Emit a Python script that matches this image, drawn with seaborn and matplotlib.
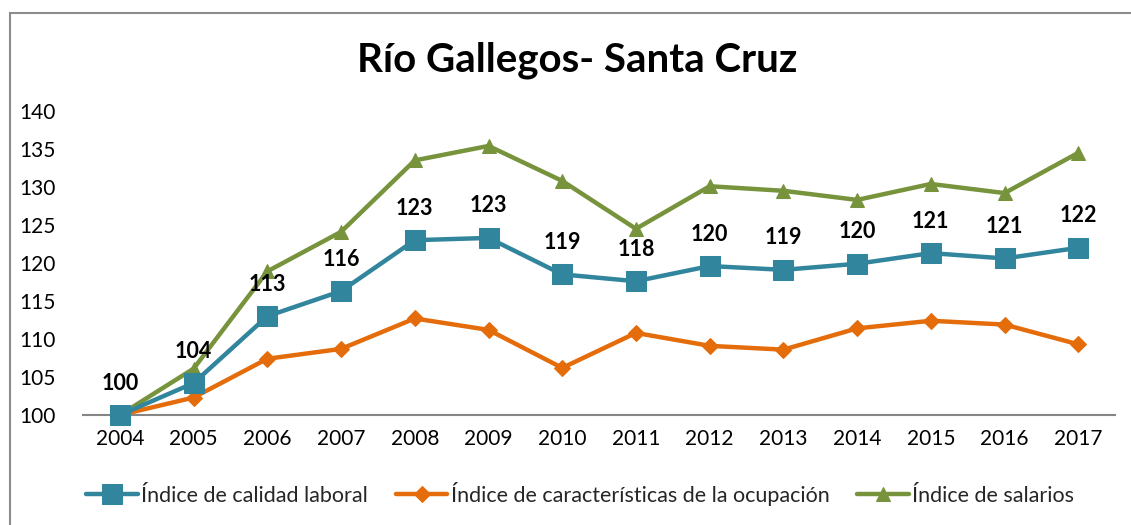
import matplotlib
matplotlib.use("Agg")
import matplotlib.pyplot as plt
import seaborn as sns
import pandas as pd
from matplotlib.patches import Rectangle

years = [2004, 2005, 2006, 2007, 2008, 2009, 2010, 2011, 2012, 2013, 2014, 2015, 2016, 2017]
calidad = [100, 104.2, 113.0, 116.3, 123.0, 123.3, 118.5, 117.6, 119.6, 119.1, 119.9, 121.3, 120.6, 122.0]
ocupacion = [100, 102.3, 107.4, 108.7, 112.7, 111.2, 106.2, 110.8, 109.1, 108.6, 111.4, 112.4, 111.9, 109.3]
salarios = [100, 106.1, 118.9, 124.1, 133.5, 135.4, 130.8, 124.5, 130.1, 129.5, 128.3, 130.4, 129.2, 134.5]
value_labels = ["100", "104", "113", "116", "123", "123", "119", "118", "120", "119", "120", "121", "121", "122"]

names = ["Índice de calidad laboral",
         "Índice de características de la ocupación",
         "Índice de salarios"]
title = "Río Gallegos- Santa Cruz"
yticks = [100, 105, 110, 115, 120, 125, 130, 135, 140]

df = pd.DataFrame({
    "year": years * 3,
    "value": calidad + ocupacion + salarios,
    "serie": [names[0]] * len(years) + [names[1]] * len(years) + [names[2]] * len(years),
})

sns.set_theme(style="white")
plt.rcParams["font.family"] = ["Lato", "DejaVu Sans"]

colors = ["#31859C", "#E46C0A", "#77933C"]
markers = ["s", "D", "^"]
msizes = [15, 8, 10]

fig = plt.figure(figsize=(11.31, 5.25), dpi=100)
ax = fig.add_axes([0.0734, 0.2095, 0.9126, 0.5791])

# draw order: salarios below, then ocupación, calidad on top
for i in [2, 1, 0]:
    sub = df[df["serie"] == names[i]]
    sns.lineplot(data=sub, x="year", y="value", ax=ax, color=colors[i],
                 linewidth=3.2, marker=markers[i], markersize=msizes[i],
                 markeredgecolor=colors[i], label=names[i], zorder=3 + (2 - i),
                 clip_on=False)

for x, y, t in zip(years, calidad, value_labels):
    ax.annotate(t, (x, y), xytext=(0, 23), textcoords="offset points",
                ha="center", va="center", fontsize=15.5, fontweight="bold",
                color="black", zorder=10)

ax.set_xlim(2003.5, 2017.5)
ax.set_ylim(100, 140)
ax.set_xticks(years)
ax.set_xticklabels([str(y) for y in years])
ax.set_yticks(yticks)
ax.tick_params(axis="both", labelsize=15, colors="black", length=0)
ax.tick_params(axis="x", pad=10)
ax.tick_params(axis="y", pad=20)
ax.set_xlabel("")
ax.set_ylabel("")
for s in ["top", "right", "left"]:
    ax.spines[s].set_visible(False)
ax.spines["bottom"].set_color("#868686")
ax.spines["bottom"].set_linewidth(1.5)
ax.spines["bottom"].set_zorder(2)
ax.set_facecolor("none")

handles, labels = ax.get_legend_handles_labels()
order = [labels.index(n) for n in names]
ax.legend([handles[k] for k in order], [labels[k] for k in order],
          loc="center", bbox_to_anchor=(0.513, 0.059), bbox_transform=fig.transFigure,
          ncol=3, frameon=False, fontsize=15.5, handlelength=2.4,
          handletextpad=0.15, columnspacing=1.3)

fig.text(0.51, 0.886, title, ha="center", va="center", fontsize=29,
         fontweight="bold", color="black")

# outer chart frame
fig.patches.append(Rectangle((10 / 1131, -0.1), 1.2, 1 - 13 / 525 + 0.1,
                             transform=fig.transFigure, fill=False,
                             edgecolor="#8C8C8C", linewidth=1.5, zorder=0))

fig.savefig("out.png", dpi=100)
